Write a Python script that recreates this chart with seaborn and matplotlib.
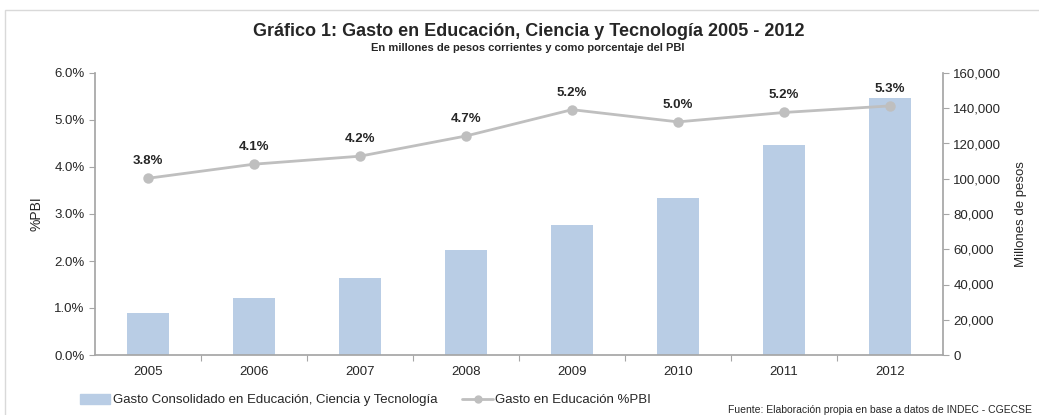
import numpy as np
import pandas as pd
import matplotlib
matplotlib.use("Agg")
import matplotlib.pyplot as plt
import matplotlib.patches as mpatches
import matplotlib.lines as mlines
from matplotlib.ticker import FuncFormatter, FixedLocator
import seaborn as sns

# ── datos ──────────────────────────────────
anios = ["2005", "2006", "2007", "2008", "2009", "2010", "2011", "2012"]
gasto_millones = [24000, 32200, 43700, 59600, 73700, 89300, 119100, 145800]
gasto_pct_pbi = [3.76, 4.06, 4.23, 4.66, 5.22, 4.96, 5.16, 5.30]

df = pd.DataFrame({"anio": anios, "gasto": gasto_millones, "pct": gasto_pct_pbi})

color_barra = "#B9CDE5"
color_linea = "#BFBFBF"
color_eje = "#A6A6A6"
color_txt = "#262626"

sns.set_theme(style="white")
plt.rcParams["font.family"] = ["Liberation Sans", "DejaVu Sans"]

fig = plt.figure(figsize=(10.39, 4.15), dpi=100)
ax_bar = fig.add_axes([95 / 1039, 60 / 415, 848 / 1039, 282 / 415])

# barras (eje derecho)
sns.barplot(data=df, x="anio", y="gasto", ax=ax_bar, color=color_barra,
            width=0.40, saturation=1, edgecolor="none")

# línea (eje izquierdo), por encima de las barras
ax_line = ax_bar.twinx()
sns.pointplot(data=df, x="anio", y="pct", ax=ax_line, color=color_linea,
              markers="o", markersize=6, linewidth=2)

ax_bar.set_ylim(0, 160000)
ax_bar.set_xlim(-0.5, 7.5)
ax_bar.yaxis.tick_right()
ax_bar.yaxis.set_label_position("right")
ax_bar.set_yticks(np.arange(0, 160001, 20000))
ax_bar.yaxis.set_major_formatter(FuncFormatter(lambda v, p: f"{v:,.0f}"))
ax_bar.set_ylabel("Millones de pesos", fontsize=9.5, labelpad=10)
ax_bar.set_xlabel("")

ax_line.set_ylim(0, 6)
ax_line.set_xlim(-0.5, 7.5)
ax_line.yaxis.tick_left()
ax_line.yaxis.set_label_position("left")
ax_line.set_yticks(np.arange(0, 6.01, 1))
ax_line.yaxis.set_major_formatter(FuncFormatter(lambda v, p: f"{v:.1f}%"))
ax_line.set_ylabel("%PBI", fontsize=10, labelpad=8)
ax_line.set_xlabel("")

for i, v in enumerate(gasto_pct_pbi):
    ax_line.annotate(f"{v:.1f}%", (i, v), xytext=(0, 8), textcoords="offset points",
                     ha="center", va="bottom", fontsize=9.5, fontweight="bold",
                     color=color_txt)

# ejes y marcas
for ax in (ax_bar, ax_line):
    for s in ax.spines.values():
        s.set_visible(False)
    ax.grid(False)

ax_bar.spines["right"].set_visible(True)
ax_bar.spines["right"].set_color(color_eje)
ax_bar.spines["bottom"].set_visible(True)
ax_bar.spines["bottom"].set_color(color_eje)
ax_line.spines["left"].set_visible(True)
ax_line.spines["left"].set_color(color_eje)

ax_bar.tick_params(axis="y", which="both", left=False, labelleft=False,
                   right=True, labelright=True, color=color_eje,
                   labelcolor=color_txt, labelsize=9.5, length=4, width=0.8,
                   direction="out")
ax_line.tick_params(axis="y", which="both", right=False, labelright=False,
                    left=True, labelleft=True, color=color_eje,
                    labelcolor=color_txt, labelsize=9.5, length=4, width=0.8,
                    direction="out")

ax_bar.tick_params(axis="x", which="major", length=0, labelsize=9.5,
                   labelcolor=color_txt, pad=8)
ax_bar.xaxis.set_minor_locator(FixedLocator(np.arange(0.5, 7.5, 1)))
ax_bar.tick_params(axis="x", which="minor", bottom=True, length=4,
                   width=0.8, color=color_eje, direction="out")
ax_line.tick_params(axis="x", bottom=False, labelbottom=False)

# títulos
fig.text(529 / 1039, 1 - 32 / 415, "Gráfico 1: Gasto en Educación, Ciencia y Tecnología 2005 - 2012",
         ha="center", va="center", fontsize=13, fontweight="bold", color=color_txt)
fig.text(528 / 1039, 1 - 48 / 415, "En millones de pesos corrientes y como porcentaje del PBI",
         ha="center", va="center", fontsize=8, fontweight="bold", color=color_txt)

# leyenda
h_bar = mpatches.Patch(color=color_barra,
                       label="Gasto Consolidado en Educación, Ciencia y Tecnología")
h_line = mlines.Line2D([], [], color=color_linea, marker="o", markersize=5,
                       linewidth=2, label="Gasto en Educación %PBI")
fig.legend(handles=[h_bar, h_line], loc="center left",
           bbox_to_anchor=(68 / 1039, 1 - 400 / 415), ncol=2, frameon=False,
           fontsize=9.5, handlelength=2.3, handletextpad=0.2, columnspacing=1.9,
           handleheight=0.8)

fig.text(1032 / 1039, 1 - 410 / 415,
         "Fuente: Elaboración propia en base a datos de INDEC - CGECSE",
         ha="right", va="center", fontsize=7.5, color=color_txt)

# marco del gráfico
fig.patches.append(mpatches.Rectangle((5 / 1039, -0.1), 1.2, 1.1 - 10 / 415,
                                      transform=fig.transFigure, fill=False,
                                      edgecolor="#D9D9D9", linewidth=1))

fig.savefig("out.png", dpi=100)
